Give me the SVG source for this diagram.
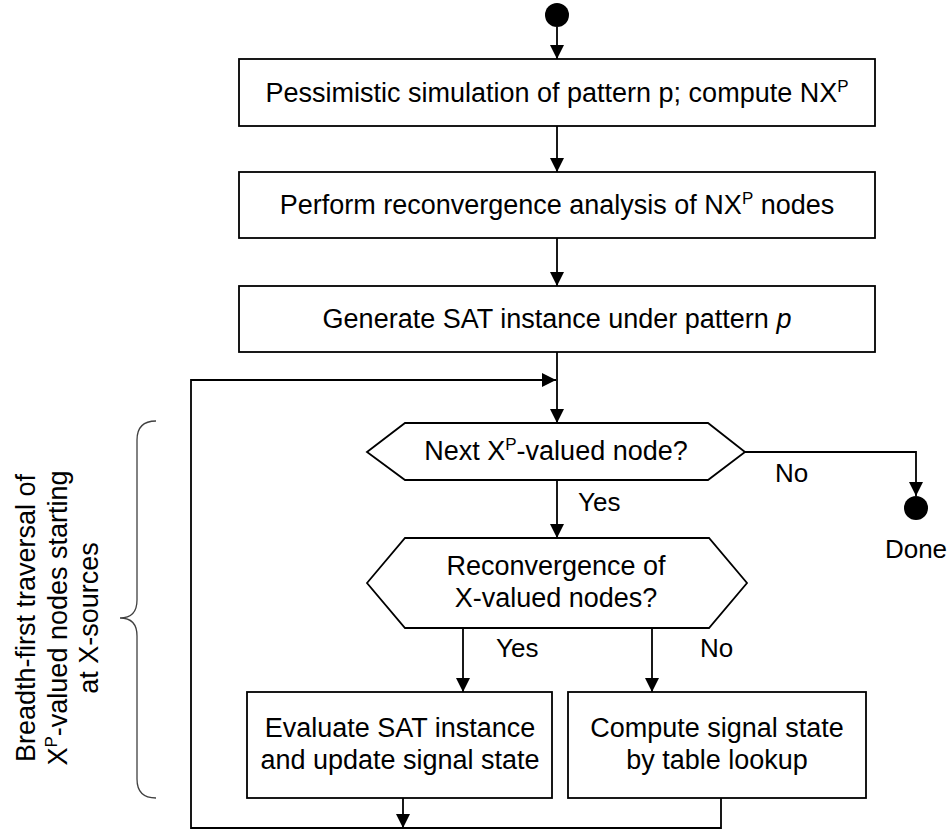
<svg xmlns="http://www.w3.org/2000/svg" width="952" height="830" viewBox="0 0 952 830">
  <style>
    .box { fill: #fff; stroke: #000; stroke-width: 1.8; }
    .wire { fill: none; stroke: #000; stroke-width: 1.8; }
    .lbl { font-family: "Liberation Sans", Arial, sans-serif; font-size: 27px; fill: #000; }
    .tag { font-family: "Liberation Sans", Arial, sans-serif; font-size: 26px; fill: #000; }
    .mid { text-anchor: middle; }
    .sup { font-size: 17px; }
    .dot { fill: #000; }
  </style>
  <defs>
    <marker id="arrow" viewBox="0 0 14 14" refX="14" refY="7" markerWidth="14" markerHeight="14" markerUnits="userSpaceOnUse" orient="auto">
      <path d="M0,0 L14,7 L0,14 Z" fill="#000"/>
    </marker>
  </defs>
  <rect width="952" height="830" fill="#fff"/>

  <!-- connectors -->
  <g id="connectors">
    <line class="wire" x1="557" y1="27" x2="557" y2="59" marker-end="url(#arrow)"/>
    <line class="wire" x1="557" y1="126" x2="557" y2="172" marker-end="url(#arrow)"/>
    <line class="wire" x1="557" y1="238" x2="557" y2="286" marker-end="url(#arrow)"/>
    <line class="wire" x1="557" y1="352" x2="557" y2="423" marker-end="url(#arrow)"/>
    <line class="wire" x1="557" y1="480" x2="557" y2="538" marker-end="url(#arrow)"/>
    <polyline class="wire" points="745,452 916,452 916,496" marker-end="url(#arrow)"/>
    <line class="wire" x1="463" y1="628" x2="463" y2="692" marker-end="url(#arrow)"/>
    <line class="wire" x1="652" y1="628" x2="652" y2="692" marker-end="url(#arrow)"/>
    <line class="wire" x1="403" y1="798" x2="403" y2="828" marker-end="url(#arrow)"/>
    <polyline class="wire" points="721,798 721,828 191,828 191,380 556,380" marker-end="url(#arrow)"/>
    <text class="tag" x="775" y="482">No</text>
    <text class="tag" x="578" y="511">Yes</text>
    <text class="tag" x="496" y="657">Yes</text>
    <text class="tag" x="700" y="657">No</text>
  </g>

  <g id="start">
    <circle class="dot" cx="557" cy="15" r="12"/>
  </g>

  <g id="simulate">
    <rect class="box" x="239" y="59" width="636" height="67"/>
    <text class="lbl mid" x="557" y="102">Pessimistic simulation of pattern p; compute NX<tspan class="sup" dy="-10">P</tspan></text>
  </g>

  <g id="reconvergence-analysis">
    <rect class="box" x="239" y="172" width="636" height="66"/>
    <text class="lbl mid" x="557" y="214">Perform reconvergence analysis of NX<tspan class="sup" dy="-10">P</tspan><tspan dy="10"> nodes</tspan></text>
  </g>

  <g id="generate-sat">
    <rect class="box" x="239" y="286" width="636" height="66"/>
    <text class="lbl mid" x="557" y="328">Generate SAT instance under pattern <tspan font-style="italic">p</tspan></text>
  </g>

  <g id="next-node">
    <polygon class="box" points="367,452 405,423 708,423 745,452 708,480 405,480"/>
    <text class="lbl mid" x="556" y="460">Next X<tspan class="sup" dy="-10">P</tspan><tspan dy="10">-valued node?</tspan></text>
  </g>

  <g id="done">
    <circle class="dot" cx="916" cy="508" r="12"/>
    <text class="tag mid" x="916" y="558">Done</text>
  </g>

  <g id="reconvergence-check">
    <polygon class="box" points="367,583 405,538 709,538 747,583 709,628 405,628"/>
    <text class="lbl mid" x="556" y="575">Reconvergence of</text>
    <text class="lbl mid" x="556" y="607">X-valued nodes?</text>
  </g>

  <g id="evaluate-sat">
    <rect class="box" x="247" y="692" width="305" height="106"/>
    <text class="lbl mid" x="400" y="737">Evaluate SAT instance</text>
    <text class="lbl mid" x="400" y="769">and update signal state</text>
  </g>

  <g id="table-lookup">
    <rect class="box" x="568" y="692" width="298" height="106"/>
    <text class="lbl mid" x="717" y="737">Compute signal state</text>
    <text class="lbl mid" x="717" y="769">by table lookup</text>
  </g>

  <g id="traversal-note">
    <path d="M156,421 Q137,421 137,440 L137,600 Q137,618 120,618 Q137,618 137,636 L137,779 Q137,798 156,798" fill="none" stroke="#404040" stroke-width="1.3"/>
    <g transform="translate(0,618) rotate(-90)">
      <text class="lbl mid" x="0" y="35">Breadth-first traversal of</text>
      <text class="lbl mid" x="0" y="67">X<tspan class="sup" dy="-10">P</tspan><tspan dy="10">-valued nodes starting</tspan></text>
      <text class="lbl mid" x="0" y="98">at X-sources</text>
    </g>
  </g>
</svg>
